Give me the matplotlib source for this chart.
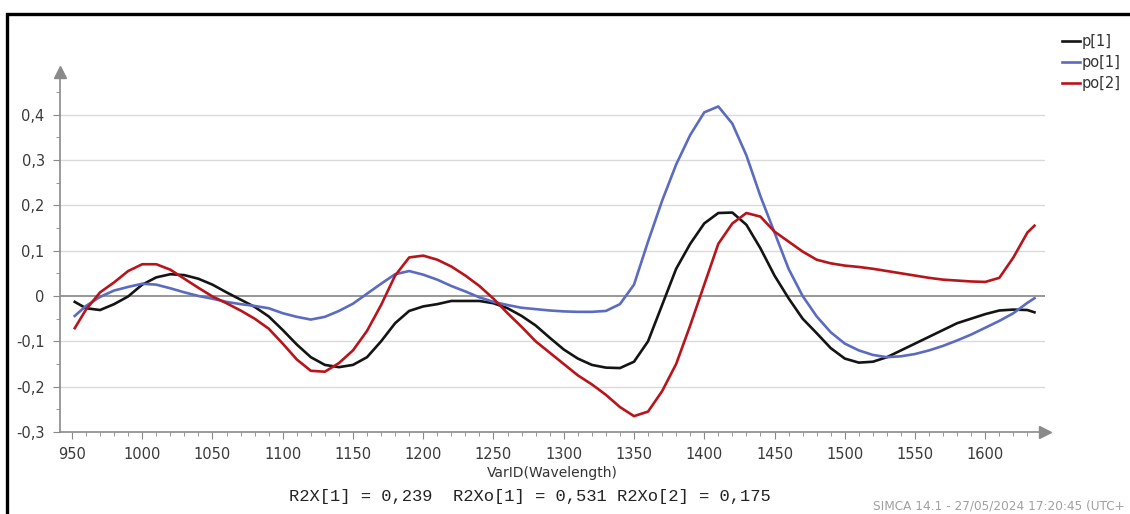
import numpy as np
import matplotlib
matplotlib.use("Agg")
from matplotlib import pyplot as plt
from matplotlib.patches import Rectangle

# wavelength grid (nm)
longitudes = [952, 960, 970, 980, 990, 1000, 1010, 1020, 1030, 1040,
              1050, 1060, 1070, 1080, 1090, 1100, 1110, 1120, 1130, 1140,
              1150, 1160, 1170, 1180, 1190, 1200, 1210, 1220, 1230, 1240,
              1250, 1260, 1270, 1280, 1290, 1300, 1310, 1320, 1330, 1340,
              1350, 1360, 1370, 1380, 1390, 1400, 1410, 1420, 1430, 1440,
              1450, 1460, 1470, 1480, 1490, 1500, 1510, 1520, 1530, 1540,
              1550, 1560, 1570, 1580, 1590, 1600, 1610, 1620, 1630, 1635]

p1 = [-0.013, -0.027, -0.031, -0.018, -0.001, 0.025, 0.041, 0.048, 0.046, 0.038,
      0.025, 0.008, -0.008, -0.024, -0.045, -0.075, -0.107, -0.135, -0.152, -0.157,
      -0.152, -0.135, -0.100, -0.060, -0.033, -0.023, -0.018, -0.011, -0.011, -0.011,
      -0.016, -0.027, -0.044, -0.065, -0.092, -0.118, -0.138, -0.152, -0.158, -0.159,
      -0.145, -0.100, -0.020, 0.060, 0.115, 0.160, 0.183, 0.184, 0.157, 0.105,
      0.045, -0.005, -0.050, -0.082, -0.115, -0.138, -0.147, -0.145, -0.135, -0.120,
      -0.105, -0.090, -0.075, -0.060, -0.050, -0.040, -0.032, -0.030, -0.031, -0.036]

po1 = [-0.044, -0.022, -0.002, 0.012, 0.020, 0.027, 0.025, 0.017, 0.008, 0.000,
       -0.006, -0.013, -0.018, -0.022, -0.027, -0.038, -0.046, -0.052, -0.046, -0.033,
       -0.017, 0.005, 0.027, 0.048, 0.055, 0.047, 0.036, 0.022, 0.010, -0.003,
       -0.013, -0.020, -0.026, -0.029, -0.032, -0.034, -0.035, -0.035, -0.033, -0.018,
       0.025, 0.120, 0.210, 0.290, 0.355, 0.405, 0.418, 0.380, 0.310, 0.220,
       0.140, 0.060, 0.000, -0.045, -0.080, -0.105, -0.120, -0.130, -0.135, -0.133,
       -0.128, -0.120, -0.110, -0.098, -0.085, -0.070, -0.055, -0.038, -0.015, -0.005]

po2 = [-0.071, -0.030, 0.008, 0.030, 0.055, 0.070, 0.070, 0.058, 0.038, 0.018,
       -0.001, -0.016, -0.032, -0.050, -0.072, -0.105, -0.140, -0.165, -0.167, -0.148,
       -0.120, -0.077, -0.020, 0.045, 0.085, 0.089, 0.080, 0.065, 0.045, 0.022,
       -0.006, -0.038, -0.068, -0.100, -0.125, -0.150, -0.175, -0.195, -0.218, -0.245,
       -0.265, -0.255, -0.210, -0.150, -0.065, 0.025, 0.115, 0.160, 0.183, 0.175,
       0.142, 0.120, 0.098, 0.080, 0.072, 0.067, 0.064, 0.060, 0.055, 0.050,
       0.045, 0.040, 0.036, 0.034, 0.032, 0.031, 0.040, 0.085, 0.140, 0.155]

series = [("p[1]", p1, "#141414"), ("po[1]", po1, "#5b6bc0"), ("po[2]", po2, "#b8141c")]

y_ticks = [-0.3, -0.2, -0.1, 0, 0.1, 0.2, 0.3, 0.4]
x_ticks = list(range(950, 1601, 50))

W, H = 1130, 514
fig = plt.figure(figsize=(W / 100, H / 100), dpi=100)
ax = fig.add_axes([60 / W, 1 - 432 / H, (1045 - 60) / W, (432 - 72) / H])

for nombre, vals, color in series:
    ax.plot(longitudes, vals, color=color, lw=1.9, label=nombre, zorder=3)

ax.set_xlim(941.5, 1642.5)
ax.set_ylim(-0.3, 0.494)

for v in y_ticks:
    if v == 0:
        ax.axhline(0, color="#7a7a7a", lw=1.1, zorder=2)
    elif v > -0.3:
        ax.axhline(v, color="#dadada", lw=1.0, zorder=1)

ax.set_yticks(y_ticks)
ax.set_yticklabels([("%g" % v).replace(".", ",") for v in y_ticks])
ax.set_yticks(np.arange(-0.3, 0.451, 0.05), minor=True)
ax.set_xticks(x_ticks)
ax.set_xticks(range(950, 1641, 10), minor=True)
ax.tick_params(axis="both", which="major", length=5, color="#888888",
               labelsize=10.5, labelcolor="#3a3a3a", pad=6)
ax.tick_params(axis="both", which="minor", length=3, color="#888888")

for s in ["top", "right"]:
    ax.spines[s].set_visible(False)
for s in ["left", "bottom"]:
    ax.spines[s].set_color("#8a8a8a")
    ax.spines[s].set_linewidth(1.2)

# arrow heads on the axes
ax.plot([941.5], [0.494], marker="^", ms=9, color="#8a8a8a", clip_on=False, zorder=4)
ax.plot([1642.5], [-0.3], marker=">", ms=9, color="#8a8a8a", clip_on=False, zorder=4)

ax.set_xlabel("VarID(Wavelength)", fontsize=10, color="#333333", labelpad=3)

fig.text(530 / W, 1 - 496 / H, "R2X[1] = 0,239  R2Xo[1] = 0,531 R2Xo[2] = 0,175",
         family="Liberation Mono", fontsize=12.3, color="#222222",
         ha="center", va="center")
fig.text(873 / W, 1 - 506 / H, "SIMCA 14.1 - 27/05/2024 17:20:45 (UTC+",
         fontsize=8.7, color="#a0a0a0", ha="left", va="center")

fig.legend(loc="upper left", bbox_to_anchor=(1062 / W, 1 - 34 / H), frameon=False,
           handlelength=1.2, handletextpad=0.15, labelspacing=0.42, fontsize=10.5,
           labelcolor="#333333", borderaxespad=0, borderpad=0)

# marco negro
fig.patches.append(Rectangle((7 / W, -0.5), 2, 0.5 + 1 - 14 / H, transform=fig.transFigure,
                             fill=False, edgecolor="black", lw=2.4))

fig.savefig("out.png", dpi=100)
